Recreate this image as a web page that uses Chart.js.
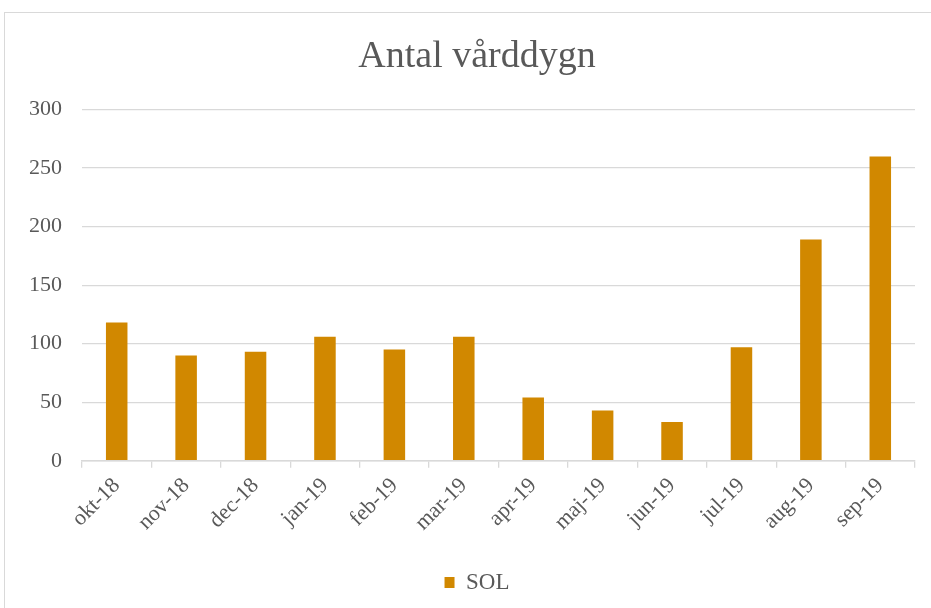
<!DOCTYPE html>
<html lang="sv">
<head>
    <meta charset="UTF-8">
    <title>Antal vårddygn</title>
    <style>
        html, body {
            margin: 0;
            padding: 0;
            background: #fff;
            overflow: hidden;
            width: 931px;
            height: 608px;
        }
        .frame {
            position: absolute;
            left: 4px;
            top: 12px;
            width: 960px;
            height: 640px;
            border: 1px solid #d9d9d9;
        }
        .chart-box {
            position: absolute;
            left: 0;
            top: 0;
            width: 954px;
            height: 608px;
        }
    </style>
    <script src="https://cdn.jsdelivr.net/npm/chart.js"></script>
</head>
<body>
    <div class="frame"></div>
    <div class="chart-box">
        <canvas id="chart"></canvas>
    </div>
    <script>
        const months = ["okt-18", "nov-18", "dec-18", "jan-19", "feb-19", "mar-19",
                        "apr-19", "maj-19", "jun-19", "jul-19", "aug-19", "sep-19"];
        const solValues = [118, 90, 93, 106, 95, 106, 54, 43, 33, 97, 189, 260];
        const seriesName = "SOL";
        const chartTitle = "Antal vårddygn";

        const textColor = '#595959';
        const gridColor = '#d9d9d9';
        const font = "'Liberation Serif', 'Times New Roman', serif";

        new Chart(document.getElementById('chart'), {
            type: 'bar',
            data: {
                labels: months,
                datasets: [{
                    label: seriesName,
                    data: solValues,
                    backgroundColor: '#d18800',
                    borderWidth: 0,
                    barPercentage: 0.31,
                    categoryPercentage: 1
                }]
            },
            options: {
                responsive: true,
                maintainAspectRatio: false,
                animation: false,
                layout: {
                    padding: { left: 0, right: 0, top: 0, bottom: 4 }
                },
                plugins: {
                    title: {
                        display: true,
                        text: chartTitle,
                        color: textColor,
                        font: { family: font, size: 38, weight: 'normal' },
                        padding: { top: 34, bottom: 30 }
                    },
                    legend: {
                        position: 'bottom',
                        labels: {
                            color: textColor,
                            font: { family: font, size: 23 },
                            boxWidth: 10,
                            boxHeight: 11,
                            padding: 22
                        }
                    },
                    tooltip: { enabled: false }
                },
                scales: {
                    x: {
                        afterFit: (axis) => { axis.height += 8; },
                        grid: {
                            offset: true,
                            drawOnChartArea: false,
                            color: gridColor,
                            lineWidth: 1.3,
                            tickLength: 7
                        },
                        border: { color: gridColor, width: 1.5 },
                        ticks: {
                            color: textColor,
                            font: { family: font, size: 22 },
                            minRotation: 45,
                            maxRotation: 45,
                            autoSkip: false,
                            padding: 5
                        }
                    },
                    y: {
                        min: 0,
                        max: 300,
                        afterFit: (axis) => { axis.width = 82; },
                        grid: {
                            color: gridColor,
                            lineWidth: 1.3,
                            drawTicks: false
                        },
                        border: { display: false },
                        ticks: {
                            stepSize: 50,
                            color: textColor,
                            font: { family: font, size: 22 },
                            padding: 20
                        }
                    },
                    // empty spacer on the right so the plot ends at x=915
                    spacer: {
                        type: 'linear',
                        position: 'right',
                        afterFit: (axis) => { axis.width = 39; },
                        grid: { display: false },
                        border: { display: false },
                        ticks: { display: false }
                    }
                }
            }
        });
    </script>
</body>
</html>
